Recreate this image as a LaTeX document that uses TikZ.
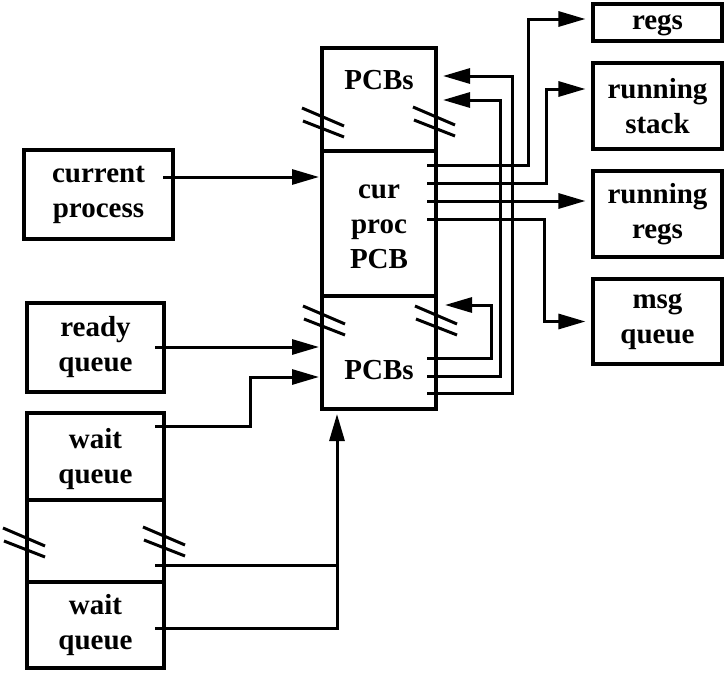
\documentclass[tikz,border=0pt]{standalone}
\usepackage{fontspec}
\setmainfont{Liberation Serif}
\usetikzlibrary{arrows.meta}
\begin{document}
\begin{tikzpicture}[x=1pt,y=-1pt,
  box/.style={draw,line width=3.1pt,inner sep=0pt},
  lbl/.style={font=\fontsize{29}{35}\selectfont\bfseries,align=center,inner sep=0pt},
  conn/.style={line width=3pt,-{Triangle[length=27pt,width=15pt]}},
  wire/.style={line width=3pt},
  brk/.style={line width=3pt},
  dbl/.pic={\draw[brk] (0,0) -- (42,18) (1,13) -- (42,29);}]
\useasboundingbox (0,0) rectangle (725,672);

% right boxes
\node[box,minimum width=129pt,minimum height=37pt] (regs) at (657.5,22.5) {};
\node[lbl,yshift=-3pt] at (regs.center) {regs};
\node[box,minimum width=129pt,minimum height=86pt] (stack) at (657.5,106) {};
\node[lbl] at (stack.center) {running\\stack};
\node[box,minimum width=129pt,minimum height=86pt] (rregs) at (657.5,214) {};
\node[lbl] at (rregs.center) {running\\regs};
\node[box,minimum width=129pt,minimum height=85pt] (msgq) at (657.5,321.5) {};
\node[lbl] at (msgq.center) {msg\\queue};

% left boxes
\node[box,minimum width=149pt,minimum height=89pt] (curp) at (98.5,194.5) {};
\node[lbl] at (curp.center) {current\\process};
\node[box,minimum width=137pt,minimum height=89pt] (ready) at (95.5,347.5) {};
\node[lbl] at (ready.center) {ready\\queue};
\node[box,minimum width=137pt,minimum height=87pt] (waitA) at (95.5,456.5) {};
\node[lbl,yshift=-3pt] at (waitA.center) {wait\\queue};
\node[box,minimum width=137pt,minimum height=82pt] (waitM) at (95.5,541) {};
\node[box,minimum width=137pt,minimum height=86pt] (waitB) at (95.5,625) {};
\node[lbl] at (waitB.center) {wait\\queue};

% main column
\node[box,minimum width=114pt,minimum height=103pt] (mtop) at (379,99.5) {};
\node[lbl] at (379,80) {PCBs};
\node[box,minimum width=114pt,minimum height=145pt] (mcur) at (379,223.5) {};
\node[lbl] at (379,227) {cur\\proc\\PCB};
\node[box,minimum width=114pt,minimum height=113pt] (mbot) at (379,352.5) {};
\node[lbl] at (379,370) {PCBs};

% break marks
\pic at (302,108) {dbl};
\pic at (413,107) {dbl};
\pic at (303,306) {dbl};
\pic at (415,306) {dbl};
\pic at (3,528) {dbl};
\pic at (143,527) {dbl};

% connector end points
\coordinate (a0) at (427,165);
\coordinate (b0) at (427,183);
\coordinate (c0) at (427,201);
\coordinate (d0) at (427,219);
\coordinate (e0) at (427,358);
\coordinate (f0) at (427,376);
\coordinate (g0) at (427,393);
\coordinate (cp0) at (163,177);
\coordinate (cp1) at (319,177);
\coordinate (rq0) at (155,347);
\coordinate (rq1) at (319,347);
\coordinate (wa0) at (155,426);
\coordinate (wa1) at (319,377);
\coordinate (wm0) at (155,565);
\coordinate (wb0) at (155,628);
\coordinate (up1) at (337,414);
\coordinate (etip) at (445,305);
\coordinate (ftip) at (443,100);
\coordinate (gtip) at (443,76);

% outgoing from cur proc PCB
\draw[conn] (a0) -- (528,165) |- ([xshift=-6pt,yshift=3.5pt]regs.west);
\draw[conn] (b0) -- (546,183) |- ([xshift=-6pt,yshift=17pt]stack.west);
\draw[conn] (c0) -- ([xshift=-6pt,yshift=13pt]rregs.west);
\draw[conn] (d0) -- (544,219) |- ([xshift=-6pt]msgq.west);

% loops back from bottom PCBs
\draw[conn] (e0) -- (491,358) |- (etip);
\draw[conn] (f0) -- (500,376) |- (ftip);
\draw[conn] (g0) -- (512,393) |- (gtip);

% left inputs
\draw[conn] (cp0) -- (cp1);
\draw[conn] (rq0) -- (rq1);
\draw[conn] (wa0) -- (250,426) |- (wa1);
\draw[wire] (wm0) -- (337,565);
\draw[conn] (wb0) -| (up1);
\end{tikzpicture}
\end{document}
